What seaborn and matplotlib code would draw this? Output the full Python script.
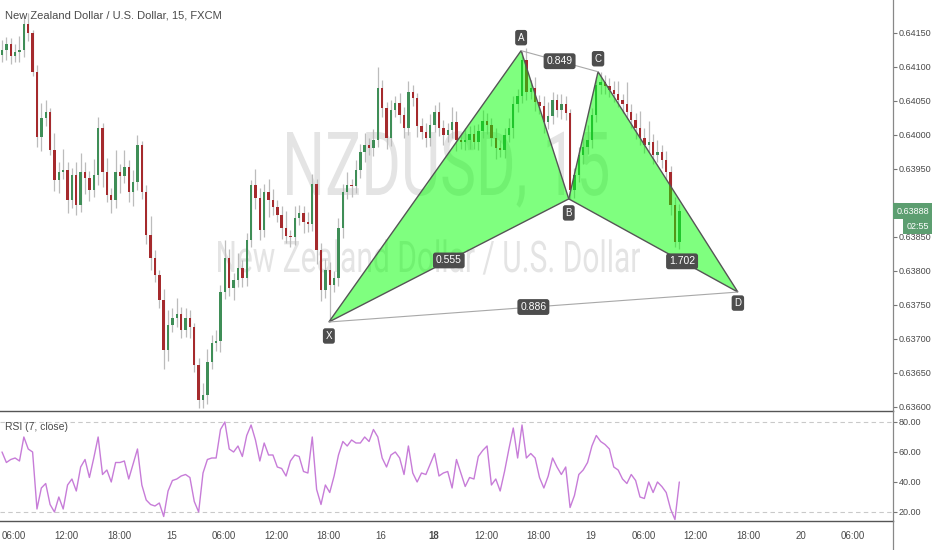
import numpy as np
import pandas as pd
import matplotlib
matplotlib.use('Agg')
import matplotlib.pyplot as plt
import seaborn as sns
from matplotlib import font_manager as fm
from matplotlib.textpath import TextPath
from matplotlib.patches import PathPatch, Polygon
from matplotlib.transforms import Affine2D, IdentityTransform, blended_transform_factory

# ---- data (15 min NZDUSD, one candle per slot) ----
first_open = 0.64118
close = [
    0.64125, 0.64134, 0.64116, 0.64122, 0.64125, 0.64163, 0.64150, 0.64093, 0.63997, 0.64025,
    0.64034, 0.63978, 0.63934, 0.63946, 0.63949, 0.63904, 0.63941, 0.63897, 0.63946, 0.63937,
    0.63919, 0.63941, 0.64010, 0.63946, 0.63912, 0.63904, 0.63946, 0.63940, 0.63953, 0.63916,
    0.63931, 0.63985, 0.63916, 0.63853, 0.63819, 0.63794, 0.63757, 0.63684, 0.63721, 0.63731,
    0.63737, 0.63713, 0.63731, 0.63718, 0.63662, 0.63610, 0.63618, 0.63666, 0.63694, 0.63697,
    0.63769, 0.63819, 0.63775, 0.63787, 0.63804, 0.63790, 0.63846, 0.63926, 0.63907, 0.63860,
    0.63916, 0.63904, 0.63894, 0.63882, 0.63863, 0.63851, 0.63850, 0.63878, 0.63885, 0.63872,
    0.63869, 0.63928, 0.63831, 0.63772, 0.63801, 0.63779, 0.63790, 0.63863, 0.63916, 0.63926,
    0.63925, 0.63949, 0.63975, 0.63985, 0.63981, 0.63993, 0.64069, 0.64040, 0.63996, 0.64037,
    0.64047, 0.64029, 0.64010, 0.64063, 0.64054, 0.64013, 0.64004, 0.63996, 0.64015, 0.64034,
    0.64010, 0.64000, 0.64007, 0.64019, 0.63993, 0.63990, 0.63993, 0.64001, 0.63990, 0.64006,
    0.64021, 0.64015, 0.63996, 0.63981, 0.63978, 0.64000, 0.64010, 0.64046, 0.64057, 0.64110,
    0.64063, 0.64069, 0.64049, 0.64043, 0.64019, 0.64028, 0.64051, 0.64037, 0.64046, 0.64032,
    0.63919, 0.63941, 0.63971, 0.63982, 0.63993, 0.64029, 0.64074, 0.64078, 0.64072, 0.64066,
    0.64060, 0.64051, 0.64046, 0.64034, 0.64022, 0.64010, 0.63996, 0.63985, 0.63990, 0.63971,
    0.63975, 0.63963, 0.63946, 0.63897, 0.63843, 0.63888,
]
# wick lengths beyond the body, in pips
wick_up = [
    1.5, 1.0, 0.8, 1.2, 2.0, 1.3, 1.6, 0.5, 1.0, 2.2,
    1.8, 0.6, 2.5, 1.4, 3.0, 1.2, 1.0, 2.0, 2.8, 1.5,
    1.0, 2.4, 1.6, 0.8, 2.0, 1.0, 3.2, 1.2, 2.5, 1.0,
    1.8, 1.5, 0.6, 1.0, 2.8, 1.2, 0.8, 1.6, 2.2, 1.4,
    2.4, 1.0, 1.5, 1.2, 0.6, 1.0, 1.8, 2.0, 1.2, 1.6,
    1.0, 2.6, 1.4, 1.0, 2.2, 1.2, 1.0, 0.8, 2.4, 1.5,
    1.2, 2.0, 1.6, 1.0, 1.4, 2.5, 1.0, 1.8, 1.2, 1.0,
    1.5, 1.4, 0.8, 1.0, 1.6, 1.2, 1.0, 1.5, 1.2, 2.0,
    1.0, 1.4, 1.2, 1.8, 1.0, 1.6, 3.1, 1.2, 0.8, 1.4,
    1.0, 1.5, 1.2, 1.6, 1.0, 0.8, 1.2, 1.4, 1.6, 1.0,
    1.4, 1.2, 1.0, 2.2, 1.6, 1.0, 1.8, 1.2, 1.4, 1.0,
    1.6, 1.2, 1.0, 1.4, 1.2, 1.0, 1.5, 1.2, 1.0, 1.4,
    1.8, 1.2, 1.6, 1.0, 1.4, 2.0, 1.2, 1.0, 1.4, 1.2,
    0.6, 1.0, 1.2, 1.4, 2.2, 1.0, 1.2, 1.5, 1.0, 1.2,
    1.4, 2.0, 1.0, 3.2, 1.2, 1.0, 2.6, 1.4, 3.0, 1.2,
    1.8, 1.0, 1.4, 0.8, 1.2, 1.0,
]
wick_dn = [
    1.0, 1.4, 1.2, 0.8, 1.5, 1.0, 1.2, 0.6, 1.5, 2.0,
    1.2, 0.8, 1.6, 2.0, 1.0, 1.8, 1.2, 1.4, 1.0, 2.4,
    1.6, 1.0, 1.4, 2.2, 1.0, 1.8, 1.2, 2.6, 1.0, 1.4,
    2.0, 1.2, 1.0, 1.4, 1.8, 1.0, 1.2, 2.8, 1.6, 1.0,
    1.4, 1.2, 1.0, 1.6, 1.0, 1.2, 1.1, 1.4, 1.0, 1.2,
    1.6, 1.0, 1.2, 1.8, 1.0, 1.4, 1.2, 1.0, 1.6, 1.4,
    1.0, 2.4, 1.2, 1.0, 1.6, 1.0, 1.4, 1.2, 1.0, 1.6,
    1.2, 1.0, 2.0, 1.6, 1.2, 5.4, 1.0, 1.2, 1.4, 1.0,
    1.6, 1.0, 1.2, 1.4, 1.0, 1.2, 1.0, 1.4, 1.6, 1.2,
    1.0, 1.2, 1.4, 1.0, 1.2, 1.6, 1.0, 1.4, 1.2, 1.0,
    1.2, 1.4, 1.0, 1.2, 1.6, 1.0, 1.2, 1.4, 1.0, 1.2,
    1.0, 1.4, 1.2, 1.6, 1.0, 1.2, 1.0, 1.4, 1.2, 1.0,
    1.2, 1.0, 1.4, 1.2, 1.6, 1.0, 1.2, 1.0, 1.4, 1.0,
    1.3, 1.2, 1.0, 1.4, 1.0, 1.2, 1.0, 1.4, 1.2, 1.0,
    1.2, 1.0, 1.4, 1.0, 1.2, 1.6, 1.0, 1.2, 1.0, 1.4,
    1.0, 1.2, 1.0, 1.4, 0.8, 1.0,
]
rsi = [
    60, 53, 55, 56, 54, 70, 62, 60, 22, 36,
    39, 25, 20, 30, 22, 38, 42, 34, 50, 55,
    43, 56, 70, 45, 48, 40, 53, 53, 54, 42,
    52, 62, 38, 28, 25, 24, 26, 17, 34, 41,
    42, 44, 45, 43, 27, 20, 46, 55, 56, 56,
    75, 80, 62, 60, 64, 57, 71, 78, 68, 54,
    66, 58, 58, 50, 49, 44, 54, 58, 57, 47,
    46, 70, 35, 25, 38, 33, 44, 58, 67, 64,
    68, 66, 66, 70, 67, 75, 70, 56, 50, 58,
    60, 56, 45, 64, 46, 40, 46, 45, 52, 59,
    44, 46, 47, 36, 55, 46, 37, 43, 42, 57,
    61, 64, 38, 42, 34, 47, 62, 76, 56, 78,
    56, 59, 56, 43, 36, 44, 56, 50, 45, 50,
    23, 31, 45, 48, 53, 64, 71, 67, 65, 62,
    50, 48, 42, 39, 45, 41, 30, 29, 40, 33,
    40, 37, 33, 22, 15, 40,
]

# harmonic pattern points (bar position, price)
pattern_names = ['X', 'A', 'B', 'C', 'D']
pattern_bar = [74.8, 118.8, 129.7, 136.4, 168.4]
pattern_price = [0.63725, 0.64124, 0.63906, 0.64093, 0.63769]
ratio_xb, ratio_ac, ratio_bd, ratio_xd = '0.555', '0.849', '1.702', '0.886'

time_tick_bar = [2.75 + 12 * k for k in range(17)]
time_tick_labels = ['06:00', '12:00', '18:00', '15', '06:00', '12:00', '18:00', '16',
                    '18', '12:00', '18:00', '19', '06:00', '12:00', '18:00', '20', '06:00']
price_ticks = [0.63600, 0.63650, 0.63700, 0.63750, 0.63800, 0.63850, 0.63900,
               0.63950, 0.64000, 0.64050, 0.64100, 0.64150]
hidden_tick = 0.63900          # covered by the last-price tag
rsi_ticks = [20, 40, 60, 80]
last_price = 0.63888
countdown = '02:55'

title = 'New Zealand Dollar / U.S. Dollar, 15, FXCM'
watermark_big = 'NZDUSD, 15'
watermark_small = 'New Zealand Dollar / U.S. Dollar'

# ---- style ----
sns.set_theme(style='white')
names = {f.name for f in fm.fontManager.ttflist}
base_font = 'Liberation Sans Narrow' if 'Liberation Sans Narrow' in names else 'Liberation Sans'
plt.rcParams['font.family'] = [base_font, 'DejaVu Sans']

GREEN = '#3f8e57'
RED = '#a52a2d'
WICK = '#bcbcbc'
TXT = '#4a4a4a'

W, H = 932, 550
RIGHT = 893
fig = plt.figure(figsize=(W / 100, H / 100), dpi=100)
ax = fig.add_axes([0, 139 / H, RIGHT / W, 411 / H])
ax2 = fig.add_axes([0, 29 / H, RIGHT / W, 110 / H])
for a in (ax, ax2):
    a.patch.set_alpha(0)

xlim = (-0.46, 203.9)

# ---- candles ----
df = pd.DataFrame({'close': close})
df['bar'] = np.arange(len(df))
df['open'] = [first_open] + close[:-1]
df['top'] = df[['open', 'close']].max(axis=1)
df['bot'] = df[['open', 'close']].min(axis=1)
df['high'] = df['top'] + np.array(wick_up) * 1e-4
df['low'] = df['bot'] - np.array(wick_dn) * 1e-4
df['color'] = np.where(df['close'] >= df['open'], GREEN, RED)

ax.vlines(df['bar'], df['low'], df['high'], color=WICK, lw=0.9, zorder=2)
ax.bar(df['bar'], np.maximum(df['top'] - df['bot'], 0.000018), bottom=df['bot'],
       width=0.55, color=df['color'], edgecolor='none', zorder=3)

# ---- watermark (condensed outline text in pixel space, behind the axes) ----
def stamp(text, x0, x1, ytop, ybase, size=100):
    prop = fm.FontProperties(family=['Roboto', 'DejaVu Sans'])
    path = TextPath((0, 0), text, size=size, prop=prop)
    cap = TextPath((0, 0), 'N', size=size, prop=prop).get_extents().height
    bb = path.get_extents()
    sx = (x1 - x0) / bb.width
    sy = (ybase - ytop) / cap
    tr = Affine2D().translate(-bb.x0, 0).scale(sx, sy).translate(x0, H - ybase)
    patch = PathPatch(path, facecolor='#e4e4e4', edgecolor='none', zorder=-5,
                      transform=tr + IdentityTransform())
    patch.set_clip_on(False)
    fig.add_artist(patch)

stamp(watermark_big, 287, 608, 132, 195)
stamp(watermark_small, 218, 640, 241, 272)

# ---- harmonic pattern ----
pts = dict(zip(pattern_names, zip(pattern_bar, pattern_price)))
for tri in (('X', 'A', 'B'), ('B', 'C', 'D')):
    ax.add_patch(Polygon([pts[k] for k in tri], closed=True, facecolor=(0, 1, 0, 0.5),
                         edgecolor='#555555', lw=1.0, zorder=4))
for a, b in (('X', 'D'), ('A', 'C')):
    ax.plot([pts[a][0], pts[b][0]], [pts[a][1], pts[b][1]], color='#a8a8a8', lw=0.8, zorder=4)

box = dict(boxstyle='round,pad=0.28,rounding_size=0.25', fc='#4d4d4d', ec='none')

def mid(a, b, t=0.5):
    return (pts[a][0] + t * (pts[b][0] - pts[a][0]), pts[a][1] + t * (pts[b][1] - pts[a][1]))

for txt, pos in ((ratio_xb, mid('X', 'B')), (ratio_ac, mid('A', 'C')),
                 (ratio_bd, mid('B', 'D', 0.67)), (ratio_xd, mid('X', 'D'))):
    ax.text(pos[0], pos[1], txt, color='white', fontsize=7.5, ha='center', va='center',
            bbox=box, zorder=6)

offsets = {'X': -14, 'A': 13, 'B': -14, 'C': 13, 'D': -11}
for k in pattern_names:
    ax.annotate(k, xy=pts[k], xytext=(0, offsets[k]), textcoords='offset pixels',
                color='white', fontsize=7, ha='center', va='center', bbox=box, zorder=6)

# ---- main axis styling ----
ax.set_xlim(*xlim)
ax.set_ylim(0.635941, 0.641985)
ax.set_xticks([])
ax.yaxis.tick_right()
ax.set_yticks(price_ticks)
ax.set_yticklabels(['' if v == hidden_tick else f'{v:.5f}' for v in price_ticks])
ax.tick_params(axis='y', direction='out', length=3, width=0.8, color='#777777',
               labelsize=6.5, labelcolor=TXT, pad=1)
for s in ('top', 'left'):
    ax.spines[s].set_visible(False)
ax.spines['right'].set_color('#888888')
ax.spines['bottom'].set_color('#555555')
ax.spines['right'].set_linewidth(0.9)
ax.spines['bottom'].set_linewidth(1.0)

# last price tag and countdown
bt = blended_transform_factory(ax.transAxes, ax.transData)
ax.text(1.004, last_price, f'{last_price:.5f}', transform=bt, ha='left', va='center',
        fontsize=6.5, color='white', clip_on=False, zorder=7,
        bbox=dict(boxstyle='square,pad=0.4', fc='#5c9e70', ec='none'))
ax.text(1.0 + 36 / RIGHT, 0.63866, countdown, transform=bt, ha='right', va='center',
        fontsize=6.5, color='white', clip_on=False, zorder=7,
        bbox=dict(boxstyle='square,pad=0.4', fc='#5c9e70', ec='none'))

# ---- RSI pane ----
rsi_df = pd.DataFrame({'bar': np.arange(len(rsi)), 'rsi': rsi})
sns.lineplot(data=rsi_df, x='bar', y='rsi', ax=ax2, color='#c77cd8', lw=1.0)
for lvl in (80, 20):
    ax2.axhline(lvl, color='#c9c9c9', lw=0.8, ls=(0, (4, 3)), zorder=1)
ax2.set_xlim(*xlim)
ax2.set_ylim(14.0, 87.33)
ax2.set_xlabel('')
ax2.set_ylabel('')
ax2.yaxis.tick_right()
ax2.set_yticks(rsi_ticks)
ax2.set_yticklabels([f'{v:.2f}' for v in rsi_ticks])
ax2.tick_params(axis='y', direction='out', length=3, width=0.8, color='#777777',
                labelsize=6.5, labelcolor=TXT, pad=1)
ax2.set_xticks(time_tick_bar)
ax2.set_xticklabels(time_tick_labels)
ax2.tick_params(axis='x', direction='out', length=3, width=0.8, color='#777777',
                labelsize=7, labelcolor=TXT, pad=4)
for lab in ax2.get_xticklabels():
    if lab.get_text() == '18':
        lab.set_fontweight('bold')
for s in ('top', 'left'):
    ax2.spines[s].set_visible(False)
ax2.spines['right'].set_color('#888888')
ax2.spines['bottom'].set_color('#555555')
ax2.spines['right'].set_linewidth(0.9)
ax2.spines['bottom'].set_linewidth(1.0)

# right axis line through the time-label strip
fig.add_artist(plt.Line2D([RIGHT / W, RIGHT / W], [0, 29 / H], transform=fig.transFigure,
                          color='#888888', lw=0.9))

fig.text(5 / W, 1 - 15 / H, title, fontsize=8, color=TXT, ha='left', va='center')
fig.text(5 / W, 1 - 427 / H, 'RSI (7, close)', fontsize=7.5, color=TXT, ha='left', va='center')

fig.savefig('out.png', dpi=100)
